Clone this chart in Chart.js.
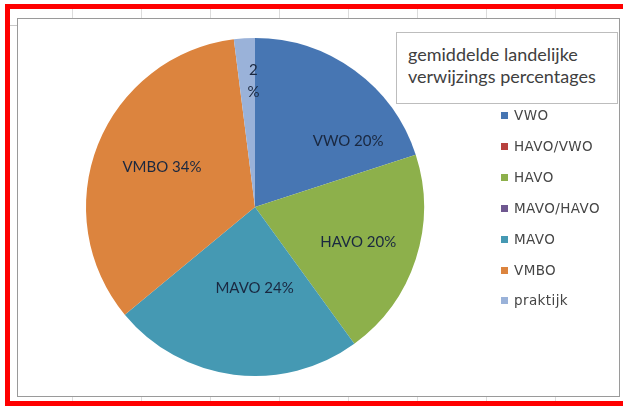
<!DOCTYPE html>
<html>
<head>
<meta charset="utf-8">
<script src="https://cdn.jsdelivr.net/npm/chart.js@4.4.1/dist/chart.umd.min.js"></script>
<style>
  html, body { margin: 0; padding: 0; background: #fff; width: 623px; height: 406px; overflow: hidden; }
  #frame {
    position: absolute; left: 5px; top: 4px; width: 640px; height: 392px;
    border: 5px solid #ff0000; border-right: none;
    background-color: #fff;
    background-image: repeating-linear-gradient(90deg, transparent 0px, transparent 62px, #dcdcdc 62px, #dcdcdc 63px, transparent 63px, transparent 69px);
  }
  #hline { position: absolute; left: 10px; top: 25px; width: 8px; height: 1px; background: #c8c8c8; }
  #plot {
    position: absolute; left: 17px; top: 18px; width: 601px; height: 377px;
    border: 1px solid #9a9a9a; background: #fff;
  }
  #wrap { position: absolute; left: 0; top: 0; width: 623px; height: 406px; }
  #titlebox {
    position: absolute; left: 396px; top: 32px; width: 222px; height: 72px;
    border: 1px solid #bdbdbd; background: #fff; box-sizing: border-box;
    font-family: Lato, "Open Sans", sans-serif; font-size: 18px; color: #404040;
    line-height: 22px; padding: 10px 0 0 11px; white-space: nowrap;
  }
  #legend { position: absolute; left: 501px; top: 105px; font-family: "DejaVu Sans", sans-serif; font-size: 13.5px; color: #454545; }
  .li { position: absolute; left: 0; height: 20px; white-space: nowrap; }
  .li .box { position: absolute; left: 0; width: 7px; height: 7px; }
  .li .txt { position: absolute; left: 13px; line-height: 16px; letter-spacing: 0.4px; }
</style>
</head>
<body>
<div id="frame"></div>
<div id="hline"></div>
<div id="plot"></div>
<div id="wrap"><canvas id="c"></canvas></div>
<div id="titlebox">gemiddelde landelijke<br>verwijzings percentages</div>
<div id="legend"></div>
<script>
// ---- data ----
const categories = ['VWO', 'HAVO/VWO', 'HAVO', 'MAVO/HAVO', 'MAVO', 'VMBO', 'praktijk'];
const percentages = [20, 0, 20, 0, 24, 34, 2];
const showCategoryInLabel = [true, true, true, true, true, true, false];
const sliceColors = ['#4776b3', '#b8413e', '#8db04b', '#6f5890', '#4599b3', '#dc843e', '#9ab2d9'];
const chartTitle = ['gemiddelde landelijke', 'verwijzings percentages'];

// label placement along each arc (fraction of arc, fraction of radius)
const labelPlacement = [
  {t: 0.76, r: 0.675}, null, {t: 0.51, r: 0.645}, null,
  {t: 0.42, r: 0.48}, {t: 0.515, r: 0.60}, {t: 0.9, r: 0.745}
];

const labelPlugin = {
  id: 'sliceLabels',
  afterDatasetsDraw(chart) {
    const ctx = chart.ctx;
    const meta = chart.getDatasetMeta(0);
    ctx.save();
    ctx.font = '15px Lato, "Open Sans", sans-serif';
    ctx.fillStyle = '#1a2840';
    ctx.textAlign = 'center';
    ctx.textBaseline = 'middle';
    meta.data.forEach((arc, i) => {
      const v = percentages[i];
      if (!v) return;
      const p = arc.getProps(['x', 'y', 'startAngle', 'endAngle', 'outerRadius'], true);
      const pl = labelPlacement[i] || {t: 0.5, r: 0.6};
      const a = p.startAngle + (p.endAngle - p.startAngle) * pl.t;
      const rr = p.outerRadius * pl.r;
      const cx = p.x + Math.cos(a) * rr;
      const cy = p.y + Math.sin(a) * rr;
      const lines = showCategoryInLabel[i] ? [categories[i] + ' ' + v + '%'] : [String(v), '%'];
      const lh = 22;
      lines.forEach((ln, k) => {
        ctx.fillText(ln, cx, cy + (k - (lines.length - 1) / 2) * lh);
      });
    });
    ctx.restore();
  }
};

const chart = new Chart(document.getElementById('c'), {
  type: 'pie',
  data: {
    labels: categories,
    datasets: [{
      data: percentages,
      backgroundColor: sliceColors,
      borderWidth: 0
    }]
  },
  options: {
    responsive: true,
    maintainAspectRatio: false,
    animation: false,
    layout: { padding: { left: 86, top: 38, right: 199, bottom: 30 } },
    plugins: {
      legend: { display: false },
      title: { display: false, text: chartTitle },
      tooltip: { enabled: false }
    }
  },
  plugins: [labelPlugin]
});

// HTML legend built from the chart's own (pie) legend items
const legendEl = document.getElementById('legend');
const items = Chart.overrides.pie.plugins.legend.labels.generateLabels(chart);
items.forEach((it, i) => {
  const row = document.createElement('div');
  row.className = 'li';
  row.style.top = (i * 30.9) + 'px';
  const box = document.createElement('div');
  box.className = 'box';
  box.style.background = it.fillStyle;
  box.style.top = '7px';
  const txt = document.createElement('div');
  txt.className = 'txt';
  txt.style.top = '2px';
  txt.textContent = it.text;
  row.appendChild(box);
  row.appendChild(txt);
  legendEl.appendChild(row);
});
</script>
</body>
</html>
